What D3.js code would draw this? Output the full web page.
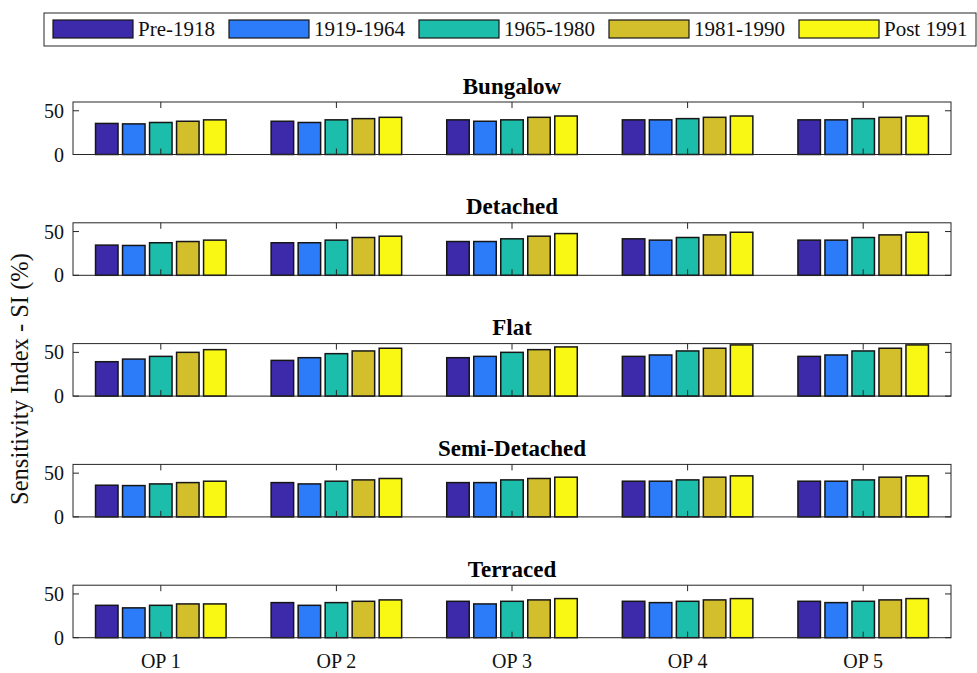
<!DOCTYPE html>
<html>
<head>
<meta charset="utf-8">
<script src="https://cdn.jsdelivr.net/npm/d3@7/dist/d3.min.js"></script>
<style>
  html, body { margin: 0; padding: 0; background: #fff; }
  svg { display: block; }
  svg text { font-family: "Liberation Serif", "Times New Roman", Times, "DejaVu Serif", serif; }
</style>
</head>
<body>
<svg id="chart" width="977" height="673"></svg>
<script>
// Sensitivity index (%) per dwelling type, option and construction period
const options = ["OP 1", "OP 2", "OP 3", "OP 4", "OP 5"];
const periods = ["Pre-1918", "1919-1964", "1965-1980", "1981-1990", "Post 1991"];
const dwellingTypes = ["Bungalow", "Detached", "Flat", "Semi-Detached", "Terraced"];
const periodColors = ["#3c2aaa", "#2c7bf8", "#1cbdab", "#d3bf2b", "#f9f714"];
const yTicks = [0, 50];

// rows = options, columns = periods
const bungalow = [
  [35.5, 35.0, 36.6, 38.0, 39.6],
  [38.0, 36.6, 39.6, 41.0, 42.5],
  [39.6, 38.0, 39.6, 42.5, 44.0],
  [39.6, 39.6, 41.0, 42.5, 44.0],
  [39.6, 39.6, 41.0, 42.5, 44.0]
];
const detached = [
  [34.5, 34.1, 37.2, 38.6, 40.2],
  [37.2, 37.2, 40.2, 43.2, 44.7],
  [38.6, 38.6, 41.7, 44.7, 47.7],
  [41.7, 40.2, 43.2, 46.2, 49.2],
  [40.2, 40.2, 43.2, 46.2, 49.2]
];
const flat = [
  [39.3, 42.3, 45.4, 50.0, 53.1],
  [40.8, 43.9, 48.5, 51.6, 54.7],
  [43.9, 45.4, 50.0, 53.1, 56.2],
  [45.4, 47.0, 51.6, 54.7, 58.5],
  [45.4, 47.0, 51.6, 54.7, 58.5]
];
const semiDetached = [
  [36.2, 35.8, 37.7, 39.2, 40.8],
  [39.2, 37.7, 40.8, 42.3, 43.9],
  [39.2, 39.2, 42.3, 43.9, 45.4],
  [40.8, 40.8, 42.3, 45.4, 46.9],
  [40.8, 40.8, 42.3, 45.4, 46.9]
];
const terraced = [
  [37.0, 34.1, 37.0, 38.6, 38.6],
  [40.1, 37.0, 40.1, 41.6, 43.2],
  [41.6, 38.6, 41.6, 43.2, 44.7],
  [41.6, 40.1, 41.6, 43.2, 44.7],
  [41.6, 40.1, 41.6, 43.2, 44.7]
];
const panelValues = [bungalow, detached, flat, semiDetached, terraced];

const svg = d3.select("#chart");
const axisColor = "#262626";
const left = 73, right = 951;
const firstTop = 102, panelStep = 120.8, panelH = 52.5;
const tickLen = 6;

// option positions 1..5, with half a slot of margin on each side
const x = d3.scaleLinear().domain([0.5, options.length + 0.5]).range([left, right]);
const slot = x(2) - x(1);
const groupW = slot * 0.769;
const sub = d3.scaleBand().domain(periods)
  .range([-groupW / 2, groupW / 2])
  .paddingInner(0.167).paddingOuter(0.0835);

dwellingTypes.forEach((name, p) => {
  const top = firstTop + p * panelStep;
  const bottom = top + panelH;
  const y = d3.scaleLinear().domain([0, 60]).range([bottom, top]);
  const g = svg.append("g");

  // bars
  const rows = panelValues[p];
  rows.forEach((row, i) => {
    g.selectAll(null).data(row).enter().append("rect")
      .attr("x", (d, j) => x(i + 1) + sub(periods[j]))
      .attr("width", sub.bandwidth())
      .attr("y", d => y(d))
      .attr("height", d => y(0) - y(d))
      .attr("fill", (d, j) => periodColors[j])
      .attr("stroke", "#161616")
      .attr("stroke-width", 1.5);
  });

  // axes box
  g.append("rect")
    .attr("x", left).attr("y", top)
    .attr("width", right - left).attr("height", panelH)
    .attr("fill", "none").attr("stroke", axisColor).attr("stroke-width", 1);

  // inward ticks: x at bottom and top, y at left and right
  const xt = d3.range(1, options.length + 1);
  g.selectAll(null).data(xt).enter().append("line")
    .attr("x1", d => x(d)).attr("x2", d => x(d))
    .attr("y1", bottom).attr("y2", bottom - tickLen)
    .attr("stroke", axisColor);
  g.selectAll(null).data(xt).enter().append("line")
    .attr("x1", d => x(d)).attr("x2", d => x(d))
    .attr("y1", top).attr("y2", top + tickLen)
    .attr("stroke", axisColor);
  g.selectAll(null).data(yTicks).enter().append("line")
    .attr("x1", left).attr("x2", left + tickLen)
    .attr("y1", d => y(d)).attr("y2", d => y(d))
    .attr("stroke", axisColor);
  g.selectAll(null).data(yTicks).enter().append("line")
    .attr("x1", right).attr("x2", right - tickLen)
    .attr("y1", d => y(d)).attr("y2", d => y(d))
    .attr("stroke", axisColor);

  // y tick labels
  g.selectAll(null).data(yTicks).enter().append("text")
    .attr("x", left - 9).attr("y", d => y(d))
    .attr("dy", "0.35em").attr("text-anchor", "end")
    .attr("font-size", 20).attr("fill", "#111")
    .text(d => d);

  // panel title
  g.append("text")
    .attr("x", (left + right) / 2).attr("y", top - 8.5)
    .attr("text-anchor", "middle").attr("font-size", 23)
    .attr("font-weight", "bold").attr("fill", "#000")
    .text(name);

  // option labels under the last panel
  if (p === dwellingTypes.length - 1) {
    g.selectAll(null).data(options).enter().append("text")
      .attr("x", (d, i) => x(i + 1)).attr("y", bottom + 30.5)
      .attr("text-anchor", "middle").attr("font-size", 20).attr("fill", "#111")
      .text(d => d);
  }
});

// y axis title
svg.append("text")
  .attr("transform", "translate(28,379) rotate(-90)")
  .attr("text-anchor", "middle").attr("font-size", 24.5).attr("fill", "#111")
  .text("Sensitivity Index - SI (%)");

// legend
const legend = svg.append("g");
legend.append("rect")
  .attr("x", 44).attr("y", 13).attr("width", 932).attr("height", 33)
  .attr("fill", "#fff").attr("stroke", axisColor).attr("stroke-width", 1);
let lx = 53;
periods.forEach((label, j) => {
  legend.append("rect")
    .attr("x", lx).attr("y", 20).attr("width", 80).attr("height", 18)
    .attr("fill", periodColors[j]).attr("stroke", "#161616").attr("stroke-width", 1.2);
  const t = legend.append("text")
    .attr("x", lx + 85).attr("y", 29).attr("dy", "0.35em")
    .attr("font-size", 21).attr("fill", "#111")
    .text(label);
  lx = lx + 85 + t.node().getComputedTextLength() + 14;
});
</script>
</body>
</html>
